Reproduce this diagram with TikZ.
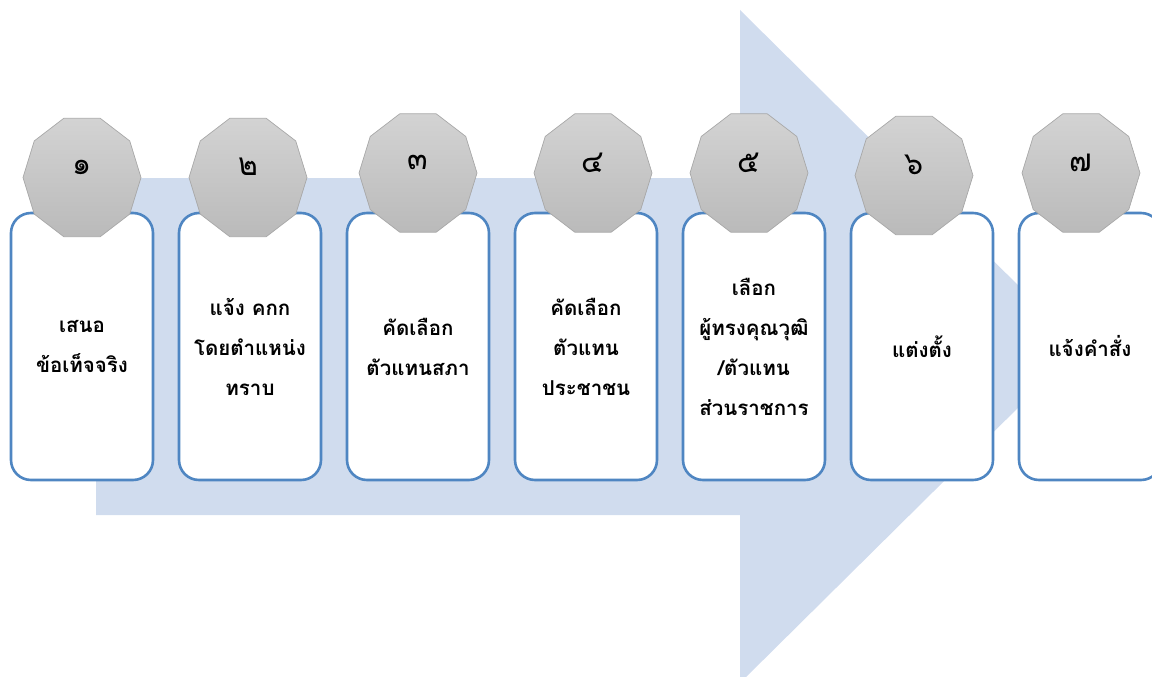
\documentclass[tikz,border=0pt]{standalone}
\usepackage{fontspec}
\newfontfamily\thaifont[Script=Thai]{Loma}
\usetikzlibrary{shapes.geometric}
\definecolor{arrowblue}{HTML}{D0DCEE}
\definecolor{boxblue}{HTML}{4F86C2}
\definecolor{decaedge}{HTML}{A8A8A8}
\definecolor{decatop}{HTML}{D3D3D3}
\definecolor{decabot}{HTML}{BABABA}
\tikzset{
  stepcard/.style={draw=boxblue, line width=2.6pt, fill=white, rounded corners=20pt,
    minimum width=142pt, minimum height=267pt, inner sep=0pt, align=center,
    font=\thaifont\bfseries\fontsize{20.5}{40}\selectfont},
  deca/.style={regular polygon, regular polygon sides=10, minimum size=118pt,
    draw=decaedge, line width=0.7pt, top color=decatop, bottom color=decabot,
    inner sep=0pt, text depth=20pt, font=\thaifont\fontsize{30}{30}\selectfont}
}
\newcommand\decaat[3]{%
  \begin{scope}[shift={#2}, yscale=1.055]
    \node[deca, transform shape] (#1) at (0,0) {#3};
  \end{scope}}
\begin{document}
\begin{tikzpicture}[x=1pt,y=-1pt]
\useasboundingbox (0,0) rectangle (1152,677);
\clip (0,0) rectangle (1152,677);
\fill[arrowblue] (96,178) -- (740,178) -- (740,10) -- (1080,346.5) -- (740,683) -- (740,515) -- (96,515) -- cycle;
\node[stepcard] (b1) at (82,346.5) {เสนอ\\ข้อเท็จจริง};
\node[stepcard] (b2) at (250,346.5) {แจ้ง คกก\\โดยตำแหน่ง\\ทราบ};
\node[stepcard] (b3) at (418,346.5) {คัดเลือก\\ตัวแทนสภา};
\node[stepcard] (b4) at (586,346.5) {คัดเลือก\\ตัวแทน\\ประชาชน};
\node[stepcard] (b5) at (754,346.5) {เลือก\\ผู้ทรงคุณวุฒิ\\/ตัวแทน\\ส่วนราชการ};
\node[stepcard] (b6) at (922,346.5) {แต่งตั้ง};
\node[stepcard] (b7) at (1090,346.5) {แจ้งคำสั่ง};
\decaat{d1}{(82,177.5)}{๑}
\decaat{d2}{(248,177.5)}{๒}
\decaat{d3}{(418,173)}{๓}
\decaat{d4}{(593,173)}{๔}
\decaat{d5}{(749,173)}{๕}
\decaat{d6}{(914,175.5)}{๖}
\decaat{d7}{(1081,173)}{๗}
\end{tikzpicture}
\end{document}
